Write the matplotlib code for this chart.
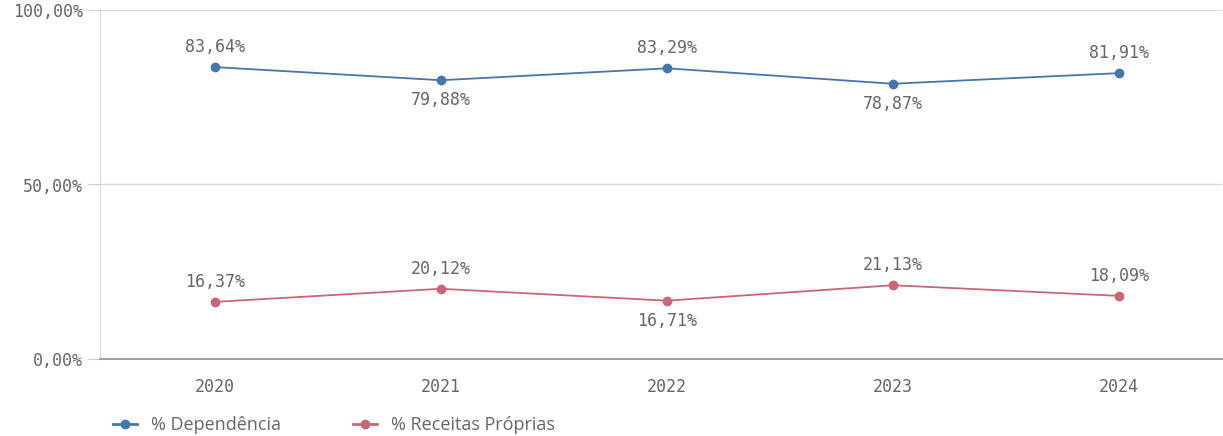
import matplotlib.pyplot as plt
from matplotlib.lines import Line2D

years = ['2020', '2021', '2022', '2023', '2024']
dependencia = [83.64, 79.88, 83.29, 78.87, 81.91]
receitas = [16.37, 20.12, 16.71, 21.13, 18.09]
dep_pos = ['above', 'below', 'above', 'below', 'above']
rec_pos = ['above', 'above', 'below', 'above', 'above']

blue = '#4477aa'
red = '#cc6677'
txt = '#666666'
mono = 'DejaVu Sans Mono'

fig = plt.figure(figsize=(12.23, 4.36), dpi=100)
ax = fig.add_axes([100 / 1223, (436 - 359) / 436, 1122 / 1223, 349 / 436])

x = list(range(len(years)))
ax.plot(x, dependencia, color=blue, marker='o', markersize=6, linewidth=1.3)
ax.plot(x, receitas, color=red, marker='o', markersize=6, linewidth=1.3)


def fmt(v):
    return f'{v:.2f}%'.replace('.', ',')


for xs, vals, pos in [(x, dependencia, dep_pos), (x, receitas, rec_pos)]:
    for xi, v, p in zip(xs, vals, pos):
        off = 8 if p == 'above' else -8
        ax.annotate(fmt(v), (xi, v), xytext=(0, off), textcoords='offset points',
                    ha='center', va='bottom' if p == 'above' else 'top',
                    fontsize=12, color=txt, family=mono)

ax.set_xlim(-0.509, 4.456)
ax.set_ylim(0, 100)
ax.set_yticks([0, 50, 100])
ax.set_yticklabels([fmt(v) for v in [0, 50, 100]], family=mono, fontsize=12, color=txt)
ax.set_xticks(x)
ax.set_xticklabels(years, family=mono, fontsize=12, color=txt)
ax.tick_params(axis='y', length=9, color='#cccccc', pad=3)
ax.tick_params(axis='x', length=0, pad=14)
ax.grid(axis='y', color='#d9d9d9', linewidth=1)
ax.set_axisbelow(True)
for s in ['top', 'right']:
    ax.spines[s].set_visible(False)
ax.spines['left'].set_color('#d9d9d9')
ax.spines['bottom'].set_color('#999999')
ax.spines['bottom'].set_linewidth(1.3)

handles = [Line2D([], [], color=blue, marker='o', markersize=6, linewidth=2),
           Line2D([], [], color=red, marker='o', markersize=6, linewidth=2)]
fig.legend(handles, ['% Dependência', '% Receitas Próprias'], loc='center left',
           bbox_to_anchor=(97 / 1223, 1 - 425 / 436), ncol=2, frameon=False,
           handlelength=1.3, handletextpad=0.8, columnspacing=4.0,
           prop={'family': 'Open Sans', 'size': 13}, labelcolor=txt)

fig.savefig('out.png', dpi=100)
